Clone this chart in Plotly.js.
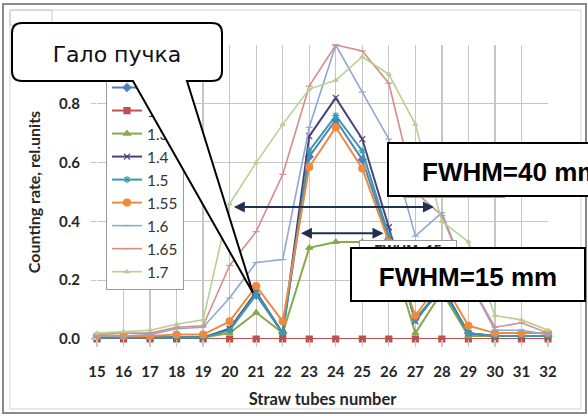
<!DOCTYPE html>
<html>
<head>
<meta charset="utf-8">
<script src="https://cdn.plot.ly/plotly-3.0.1.min.js"></script>
<style>
html,body{margin:0;padding:0;background:#fff;}
#chart{width:588px;height:416px;}
</style>
</head>
<body>
<div id="chart"></div>
<script>
// ---- data ----
const tubes = [15,16,17,18,19,20,21,22,23,24,25,26,27,28,29,30,31,32];
const seriesNames = ["1.1","1.2","1.3","1.4","1.5","1.55","1.6","1.65","1.7"];
const s1_1  = [0.005,0.005,0.005,0.005,0.005,0.03,0.15,0.02,0.62,0.745,0.61,0.34,0.07,0.17,0.02,0.01,0.01,0.01];
const s1_2  = [0,0,0,0,0,0,0,0,0,0,0,0,0,0,0,0,0,0];
const s1_3  = [0.005,0.005,0.005,0.005,0.005,0.02,0.09,0.02,0.31,0.33,0.33,0.32,0.02,0.16,0.01,0.01,0.01,0.01];
const s1_4  = [0.005,0.005,0.005,0.005,0.005,0.035,0.16,0.02,0.69,0.82,0.68,0.38,0.06,0.18,0.02,0.01,0.01,0.01];
const s1_5  = [0.005,0.005,0.005,0.005,0.005,0.03,0.155,0.02,0.64,0.76,0.64,0.35,0.065,0.17,0.02,0.01,0.01,0.01];
const s1_55 = [0.01,0.01,0.01,0.015,0.015,0.06,0.18,0.06,0.585,0.72,0.58,0.33,0.08,0.2,0.045,0.02,0.02,0.02];
const s1_6  = [0.01,0.01,0.015,0.035,0.04,0.14,0.26,0.27,0.72,1.0,0.84,0.68,0.35,0.43,0.2,0.03,0.03,0.015];
const s1_65 = [0.015,0.02,0.02,0.04,0.045,0.25,0.365,0.56,0.86,1.0,0.98,0.87,0.5,0.42,0.2,0.04,0.055,0.02];
const s1_7  = [0.02,0.025,0.03,0.05,0.065,0.46,0.6,0.73,0.85,0.88,0.96,0.9,0.73,0.4,0.33,0.08,0.065,0.03];
const yTicks = [0,0.2,0.4,0.6,0.8,1.0];
const xTitle = "Straw tubes number";
const yTitle = "Counting rate, rel.units";
const calloutText = "Гало пучка";
const fwhm40Text = "FWHM=40 mm";
const fwhm15Text = "FWHM=15 mm";

// ---- styles ----
const allSeries = [s1_1,s1_2,s1_3,s1_4,s1_5,s1_55,s1_6,s1_65,s1_7];
const colors = ["#4F81BD","#C0504D","#86AA4A","#4E3F7A","#3C98AE","#EE8A3E","#8FA8D0","#D48E8C","#B8D08F"];
const symbols = ["diamond","square","triangle-up","x-thin-open","asterisk-open","circle","line-ew-open","line-ew-open","triangle-up"];
const msizes = [6,6,6,6,6,7,5,5,4];
const lwidths = [2,2,2,2,2,2,1.6,1.6,1.6];

const traces = allSeries.map((s,i)=>({
  type:"scatter", mode:"lines+markers", x:tubes, y:s, name:seriesNames[i],
  line:{color:colors[i], width:lwidths[i]},
  marker:{symbol:symbols[i], size:msizes[i], color:colors[i], line:{color:colors[i], width:1.2}},
  cliponaxis:false
}));

// plot-area pixel geometry
const L=97, T=45, W=451, H=294;
const px = x => (x-L)/W;
const py = y => (T+H-y)/H;

const txtCol = "#262626";
const calloutPath = [
  `M ${px(22)},${py(23)}`, `L ${px(212)},${py(23)}`, `Q ${px(222)},${py(23)} ${px(222)},${py(33)}`,
  `L ${px(222)},${py(71)}`, `Q ${px(222)},${py(81)} ${px(212)},${py(81)}`,
  `L ${px(187)},${py(81)}`, `L ${px(253)},${py(293)}`, `L ${px(133)},${py(81)}`,
  `L ${px(22)},${py(81)}`, `Q ${px(12)},${py(81)} ${px(12)},${py(71)}`,
  `L ${px(12)},${py(33)}`, `Q ${px(12)},${py(23)} ${px(22)},${py(23)}`, "Z"
].join(" ");

const shapes = [
  {type:"rect", layer:"below", xref:"paper", yref:"paper", x0:px(3), x1:px(586), y0:py(4), y1:py(413), line:{color:"#8a8a8a", width:2}},
  {type:"rect", layer:"below", xref:"paper", yref:"paper", x0:px(10), x1:px(581), y0:py(10), y1:py(409), line:{color:"#d4d4d4", width:1}},
  {type:"rect", layer:"below", xref:"paper", yref:"paper", x0:px(10), x1:px(52), y0:py(10), y1:py(25), line:{color:"#c8c8c8", width:1}},
  {type:"path", layer:"above", xref:"paper", yref:"paper", path:calloutPath, fillcolor:"#ffffff", line:{color:"#000", width:2}},
  {type:"rect", layer:"above", xref:"paper", yref:"paper", x0:px(12), x1:px(222), y0:py(23), y1:py(81), line:{width:0}, fillcolor:"rgba(0,0,0,0)",
   label:{text:calloutText, textposition:"middle center", font:{family:"DejaVu Sans", size:22, color:"#111"}}},
  {type:"rect", layer:"above", xref:"paper", yref:"paper", x0:px(388), x1:px(600), y0:py(143), y1:py(196), fillcolor:"#fff", line:{color:"#000", width:2},
   label:{text:fwhm40Text, textposition:"middle left", padding:31, font:{family:"Liberation Sans", size:26, weight:"bold", color:"#000"}}},
  {type:"rect", layer:"above", xref:"paper", yref:"paper", x0:px(351), x1:px(585), y0:py(248), y1:py(301), fillcolor:"#fff", line:{color:"#000", width:2},
   label:{text:fwhm15Text, textposition:"middle center", font:{family:"Liberation Sans", size:26, weight:"bold", color:"#000"}}}
];

const arrowCol = "#1F3050";
const annotations = [
  {xref:"paper", yref:"paper", x:px(454), y:py(186), xanchor:"center", yanchor:"middle", text:"FWHM=40 mm", showarrow:false,
   bgcolor:"#fff", bordercolor:"#9a9a9a", borderwidth:1, width:98, height:20, font:{family:"Liberation Sans", size:13, color:"#333"}},
  {xref:"paper", yref:"paper", x:px(408), y:py(252), xanchor:"center", yanchor:"middle", text:"FWHM=15", showarrow:false,
   bgcolor:"#fff", bordercolor:"#9a9a9a", borderwidth:1, width:94, height:20, valign:"top",
   font:{family:"Liberation Sans", size:14, weight:"bold", color:"#333"}},
  {xref:"x", yref:"y", axref:"x", ayref:"y", x:27.7, y:0.449, ax:20.1, ay:0.449, text:"", showarrow:true,
   arrowside:"end+start", arrowhead:2, arrowsize:1.1, arrowwidth:2, arrowcolor:arrowCol},
  {xref:"x", yref:"y", axref:"x", ayref:"y", x:25.8, y:0.36, ax:22.63, ay:0.36, text:"", showarrow:true,
   arrowside:"end+start", arrowhead:2, arrowsize:1.1, arrowwidth:2, arrowcolor:arrowCol}
];

const layout = {
  width:588, height:416,
  margin:{l:L, r:588-L-W, t:T, b:416-T-H},
  paper_bgcolor:"#fff", plot_bgcolor:"#fff",
  showlegend:true,
  legend:{x:px(106), y:py(70), xanchor:"left", yanchor:"top", bgcolor:"#fff", bordercolor:"#9a9a9a", borderwidth:1,
          font:{family:"Lato", size:15.4, color:"#333"}, itemwidth:30, tracegroupgap:0},
  xaxis:{range:[15,32], tickmode:"array", tickvals:tubes, ticktext:tubes.map(String),
         showgrid:true, gridcolor:"#c6c6c6", gridwidth:1.3, zeroline:false, showline:false,
         ticks:"outside", ticklen:7, tickcolor:"#c6c6c6", tickwidth:1.3, ticklabelstandoff:12,
         tickfont:{family:"Lato", size:15, weight:"bold", color:txtCol},
         title:{text:xTitle, font:{family:"Lato", size:16.5, weight:"bold", color:txtCol}, standoff:14}},
  yaxis:{range:[0,1.0], tickmode:"array", tickvals:yTicks, tickformat:".1f",
         showgrid:true, gridcolor:"#c6c6c6", gridwidth:1.3, zeroline:false, showline:false,
         ticks:"outside", ticklen:5, tickcolor:"#c6c6c6", tickwidth:1.3, ticklabelstandoff:8,
         tickfont:{family:"Lato", size:15, weight:"bold", color:txtCol},
         title:{text:yTitle, font:{family:"Lato", size:16, weight:"bold", color:txtCol}, standoff:14}},
  shapes:shapes,
  annotations:annotations
};

const gd = document.getElementById("chart");
Plotly.newPlot(gd, traces, layout, {displayModeBar:false, staticPlot:true}).then(()=>{
  // put the callout / label boxes above the legend and annotations
  const above = gd.querySelector(".layer-above");
  if (above && above.parentNode) above.parentNode.appendChild(above);
});
</script>
</body>
</html>
